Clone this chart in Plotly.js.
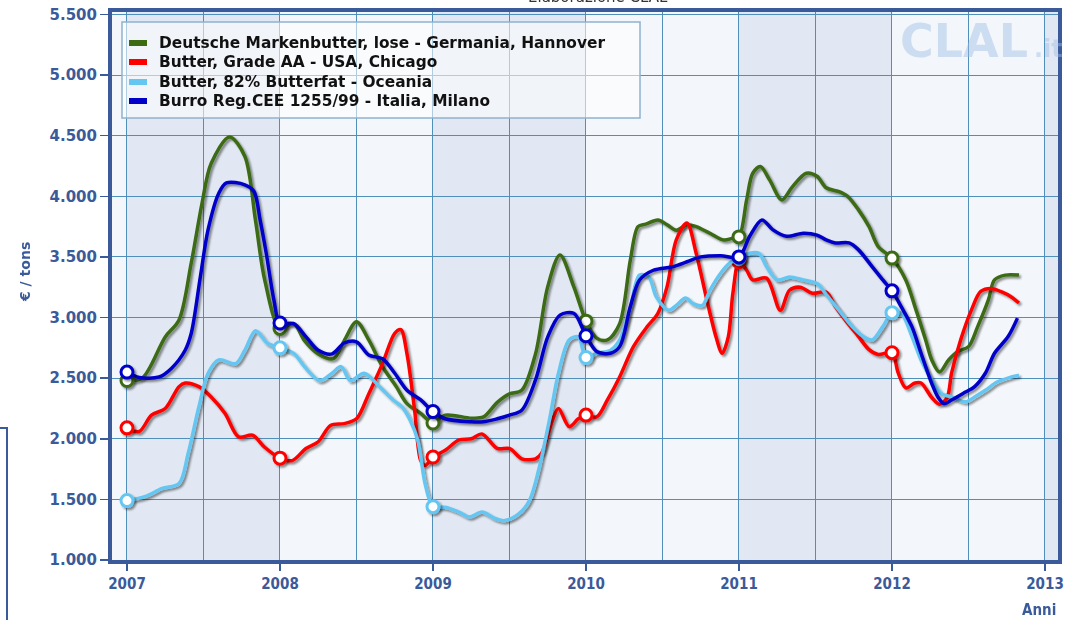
<!DOCTYPE html>
<html>
<head>
<meta charset="utf-8">
<script src="https://cdn.plot.ly/plotly-3.0.1.min.js"></script>
<style>
  html, body { margin: 0; padding: 0; background: #ffffff; }
  #chart { width: 1088px; height: 620px; }
</style>
</head>
<body>
<div id="chart"></div>
<script>
// ---------------- DATA ----------------
const seriesNames = [
  "Deutsche Markenbutter, lose - Germania, Hannover",
  "Butter, Grade AA - USA, Chicago",
  "Butter, 82% Butterfat - Oceania",
  "Burro Reg.CEE 1255/99 - Italia, Milano"
];

const deYears = [2007.00,2007.10,2007.25,2007.34,2007.42,2007.49,2007.55,2007.67,2007.77,2007.84,2007.90,2008.00,
  2008.09,2008.16,2008.25,2008.35,2008.42,2008.50,2008.58,2008.67,2008.76,2008.83,2008.92,2009.00,
  2009.08,2009.25,2009.33,2009.42,2009.50,2009.58,2009.67,2009.75,2009.83,2009.92,2010.00,
  2010.07,2010.14,2010.22,2010.29,2010.34,2010.39,2010.47,2010.53,2010.59,2010.66,2010.72,2010.81,2010.90,2010.96,2011.00,
  2011.05,2011.09,2011.14,2011.20,2011.28,2011.35,2011.44,2011.51,2011.57,2011.65,2011.71,2011.78,2011.85,2011.91,2012.00,
  2012.09,2012.15,2012.22,2012.26,2012.31,2012.37,2012.43,2012.50,2012.56,2012.63,2012.67,2012.74,2012.83];
const deValues = [2480,2500,2840,2980,3450,3940,4270,4490,4330,3800,3310,2910,
  2950,2810,2700,2660,2810,2965,2815,2595,2430,2290,2210,2130,
  2195,2170,2180,2300,2370,2400,2700,3255,3515,3255,2970,
  2830,2815,2950,3475,3750,3770,3805,3765,3720,3765,3750,3695,3640,3655,3665,
  3970,4190,4245,4135,3970,4080,4190,4165,4070,4040,4000,3890,3750,3585,3490,
  3310,3090,2815,2650,2550,2650,2720,2760,2925,3145,3310,3350,3350];

const usaYears = [2007.00,2007.08,2007.16,2007.25,2007.34,2007.38,2007.47,2007.55,2007.64,2007.73,2007.82,2007.90,2008.00,
  2008.08,2008.17,2008.25,2008.33,2008.42,2008.50,2008.58,2008.67,2008.75,2008.79,2008.83,2008.88,2008.92,2008.95,2009.00,
  2009.08,2009.17,2009.25,2009.32,2009.42,2009.50,2009.58,2009.67,2009.71,2009.78,2009.82,2009.89,2009.95,2010.00,
  2010.07,2010.14,2010.22,2010.31,2010.40,2010.47,2010.53,2010.59,2010.66,2010.72,2010.79,2010.85,2010.89,2010.93,2010.96,2011.00,
  2011.05,2011.09,2011.18,2011.27,2011.33,2011.40,2011.48,2011.57,2011.63,2011.70,2011.78,2011.85,2011.91,2012.00,
  2012.04,2012.09,2012.15,2012.19,2012.26,2012.31,2012.36,2012.39,2012.45,2012.52,2012.58,2012.65,2012.71,2012.78,2012.83];
const usaValues = [2090,2060,2195,2250,2430,2460,2430,2345,2210,2015,2030,1930,1840,
  1820,1920,1975,2110,2125,2165,2370,2620,2870,2900,2700,2235,1820,1780,1850,
  1905,1990,2000,2040,1920,1920,1835,1835,1880,2150,2250,2100,2165,2195,
  2180,2320,2510,2760,2925,3035,3255,3640,3780,3530,3145,2840,2705,2840,3200,3460,
  3390,3310,3325,3060,3225,3250,3200,3210,3090,2970,2845,2735,2695,2710,
  2545,2420,2460,2460,2340,2285,2340,2545,2820,3065,3215,3240,3215,3170,3120];

const oceYears = [2007.00,2007.12,2007.23,2007.34,2007.40,2007.47,2007.53,2007.60,2007.71,2007.77,2007.84,2007.92,2008.00,
  2008.09,2008.16,2008.26,2008.34,2008.40,2008.46,2008.55,2008.65,2008.74,2008.80,2008.85,2008.90,2008.95,2009.00,
  2009.08,2009.17,2009.24,2009.32,2009.41,2009.47,2009.56,2009.63,2009.69,2009.76,2009.82,2009.89,2009.95,2010.00,
  2010.07,2010.16,2010.22,2010.29,2010.35,2010.41,2010.46,2010.54,2010.59,2010.65,2010.70,2010.76,2010.81,2010.88,2010.94,2011.00,
  2011.07,2011.13,2011.18,2011.25,2011.33,2011.42,2011.51,2011.57,2011.65,2011.74,2011.81,2011.87,2011.94,2012.00,
  2012.06,2012.13,2012.19,2012.26,2012.32,2012.39,2012.48,2012.54,2012.61,2012.69,2012.78,2012.83];
const oceValues = [1490,1525,1590,1630,1880,2265,2540,2650,2620,2730,2890,2785,2750,
  2705,2595,2480,2540,2595,2480,2540,2430,2320,2260,2155,1990,1620,1440,
  1435,1395,1355,1395,1340,1325,1380,1490,1740,2150,2540,2815,2840,2670,
  2705,2730,2815,3090,3350,3335,3170,3060,3100,3160,3115,3100,3225,3365,3450,3490,
  3530,3530,3420,3310,3335,3310,3280,3190,3065,2925,2845,2815,2925,3040,
  3035,2845,2650,2485,2375,2345,2305,2345,2400,2470,2510,2525];

const itaYears = [2007.00,2007.08,2007.21,2007.29,2007.38,2007.42,2007.48,2007.53,2007.60,2007.65,2007.77,2007.83,2007.87,2007.91,2007.96,2008.00,
  2008.09,2008.17,2008.25,2008.34,2008.42,2008.50,2008.58,2008.67,2008.75,2008.83,2008.92,2009.00,
  2009.08,2009.25,2009.33,2009.42,2009.50,2009.58,2009.67,2009.75,2009.83,2009.92,2010.00,
  2010.07,2010.16,2010.22,2010.29,2010.35,2010.44,2010.57,2010.66,2010.75,2010.88,2011.00,
  2011.07,2011.15,2011.22,2011.31,2011.42,2011.51,2011.57,2011.63,2011.72,2011.78,2011.87,2011.94,2012.00,
  2012.06,2012.13,2012.19,2012.26,2012.30,2012.34,2012.39,2012.48,2012.54,2012.61,2012.67,2012.76,2012.82];
const itaValues = [2550,2505,2510,2580,2730,2870,3340,3725,4025,4110,4095,4040,3805,3530,3145,2955,
  2950,2840,2730,2700,2790,2800,2690,2660,2540,2400,2320,2225,
  2165,2140,2140,2165,2195,2235,2485,2840,3020,3035,2850,
  2720,2705,2760,3090,3310,3390,3420,3460,3500,3510,3500,
  3670,3805,3725,3670,3695,3680,3640,3615,3615,3560,3420,3310,3220,
  3090,2925,2705,2455,2345,2290,2320,2385,2430,2540,2705,2845,2995];

const yearTicks = [2007, 2008, 2009, 2010, 2011, 2012, 2013];
const yearLabels = ["2007", "2008", "2009", "2010", "2011", "2012", "2013"];

// ---------------- STYLE ----------------
const colors = ["#3c6b12", "#ff0000", "#66c6f2", "#0000c8"];
const axisBlue = "#3b5a9a";
const gridColor = "#4f8fba";

const W = 1088, H = 620, ML = 112, MR = 30, MT = 12, MB = 60;
const PW = W - ML - MR, PH = H - MT - MB;
const px = x => (x - ML) / PW;          // page pixel -> paper x
const py = y => (H - MB - y) / PH;      // page pixel -> paper y

const series = [
  {x: deYears, y: deValues},
  {x: usaYears, y: usaValues},
  {x: oceYears, y: oceValues},
  {x: itaYears, y: itaValues}
];

const traces = [];
series.forEach((s, i) => {
  traces.push({
    type: "scatter", mode: "lines", name: seriesNames[i],
    x: s.x, y: s.y,
    line: {color: colors[i], width: 3.5, shape: "spline", smoothing: 0.9},
    hoverinfo: "skip", showlegend: false
  });
  const mx = [], my = [];
  s.x.forEach((xv, k) => {
    if (Math.abs(xv - Math.round(xv)) < 1e-9) { mx.push(xv); my.push(s.y[k]); }
  });
  traces.push({
    type: "scatter", mode: "markers", x: mx, y: my, showlegend: false, hoverinfo: "skip",
    marker: {size: 12, color: "#ffffff", line: {color: colors[i], width: 3}}
  });
});

const xRange = [2006.902, 2013.085];
const shapes = [];
// alternating year bands
[[2007, 2008], [2009, 2010], [2011, 2012], [2013, xRange[1]]].forEach(b => {
  shapes.push({type: "rect", xref: "x", yref: "paper", x0: b[0], x1: b[1], y0: 0, y1: 1,
    fillcolor: "#e1e8f3", line: {width: 0}, layer: "below"});
});
// legend box
shapes.push({type: "rect", xref: "paper", yref: "paper",
  x0: px(122), x1: px(640), y0: py(118), y1: py(22),
  fillcolor: "rgba(255,255,255,0.55)", line: {color: "#8fb2cf", width: 1.5}, layer: "above"});
// partial frame at bottom-left edge of the page
shapes.push({type: "path", xref: "paper", yref: "paper",
  path: `M ${px(0)} ${py(428)} L ${px(7)} ${py(428)} L ${px(7)} ${py(621)}`,
  line: {color: axisBlue, width: 2}, layer: "above"});

const annotations = [
  {text: "€ / tons", xref: "paper", yref: "paper", x: px(25), y: py(272),
    xanchor: "center", yanchor: "middle", textangle: -90, showarrow: false,
    font: {family: "DejaVu Sans", size: 14, color: axisBlue, weight: "bold"}},
  {text: "Anni", xref: "paper", yref: "paper", x: 1, y: py(610), xanchor: "right", yanchor: "middle",
    showarrow: false,
    font: {family: "DejaVu Sans Condensed, Liberation Sans Narrow, DejaVu Sans", size: 15, color: axisBlue, weight: "bold"}},
  {text: "Elaborazione CLAL", xref: "paper", yref: "paper", x: px(598), y: py(-3),
    xanchor: "center", yanchor: "middle", showarrow: false,
    font: {family: "DejaVu Sans", size: 15, color: "#333333"}},
  {text: "CLAL", xref: "paper", yref: "paper", x: px(1030), y: py(41),
    xanchor: "right", yanchor: "middle", showarrow: false,
    font: {family: "DejaVu Sans", size: 46, color: "rgba(160,188,228,0.45)", weight: "bold"}},
  {text: ".it", xref: "paper", yref: "paper", x: px(1032), y: py(49),
    xanchor: "left", yanchor: "middle", showarrow: false,
    font: {family: "DejaVu Sans", size: 24, color: "rgba(160,188,228,0.45)", weight: "bold"}}
];

// legend entries (swatch + label) drawn at the reference's positions
const legendRows = [43, 62, 82, 101];
seriesNames.forEach((name, i) => {
  const yc = legendRows[i];
  shapes.push({type: "rect", xref: "paper", yref: "paper",
    x0: px(129), x1: px(147), y0: py(yc + 3), y1: py(yc - 3),
    fillcolor: colors[i], line: {width: 0}, layer: "above"});
  annotations.push({text: name, xref: "paper", yref: "paper", x: px(157), y: py(yc),
    xanchor: "left", yanchor: "middle", showarrow: false,
    font: {family: "DejaVu Sans", size: 15.4, color: "#111111", weight: "bold"}});
});

const layout = {
  width: W, height: H,
  margin: {l: ML, r: MR, t: MT, b: MB, pad: 0},
  paper_bgcolor: "#ffffff",
  plot_bgcolor: "#f3f7fb",
  separators: ",.",
  showlegend: false,
  xaxis: {
    range: xRange, tickmode: "array", tickvals: yearTicks, ticktext: yearLabels,
    showgrid: true, gridcolor: gridColor, gridwidth: 1,
    minor: {tickmode: "linear", tick0: 2007, dtick: 0.5, showgrid: true, gridcolor: gridColor, gridwidth: 1, ticks: ""},
    showline: true, linecolor: axisBlue, linewidth: 4, mirror: true,
    ticks: "outside", ticklen: 7, tickwidth: 1.5, tickcolor: axisBlue,
    tickfont: {family: "DejaVu Sans Condensed, Liberation Sans Narrow, DejaVu Sans", size: 15, color: axisBlue, weight: "bold"},
    zeroline: false, fixedrange: true
  },
  yaxis: {
    range: [1000, 5520], tick0: 1000, dtick: 500, tickformat: ",d",
    showgrid: true, gridcolor: gridColor, gridwidth: 1,
    showline: true, linecolor: axisBlue, linewidth: 4, mirror: true,
    ticks: "outside", ticklen: 8, tickwidth: 1.5, tickcolor: axisBlue,
    tickfont: {family: "DejaVu Sans", size: 15, color: axisBlue, weight: "bold"},
    zeroline: false, fixedrange: true
  },
  shapes: shapes,
  annotations: annotations
};

Plotly.newPlot("chart", traces, layout, {staticPlot: true, displayModeBar: false}).then(gd => {
  const NS = "http://www.w3.org/2000/svg";
  const svg = gd.querySelector("svg.main-svg");
  let defs = svg.querySelector("defs");
  if (!defs) { defs = document.createElementNS(NS, "defs"); svg.insertBefore(defs, svg.firstChild); }
  const f = document.createElementNS(NS, "filter");
  f.setAttribute("id", "lineShadow");
  f.setAttribute("x", "-5%"); f.setAttribute("y", "-10%");
  f.setAttribute("width", "115%"); f.setAttribute("height", "125%");
  f.innerHTML = '<feGaussianBlur in="SourceAlpha" stdDeviation="1.3"/>' +
    '<feOffset dx="2" dy="2" result="ob"/>' +
    '<feComponentTransfer><feFuncA type="linear" slope="0.45"/></feComponentTransfer>' +
    '<feMerge><feMergeNode/><feMergeNode in="SourceGraphic"/></feMerge>';
  defs.appendChild(f);
  gd.querySelectorAll(".scatterlayer .trace").forEach(g => g.setAttribute("filter", "url(#lineShadow)"));
});
</script>
</body>
</html>
